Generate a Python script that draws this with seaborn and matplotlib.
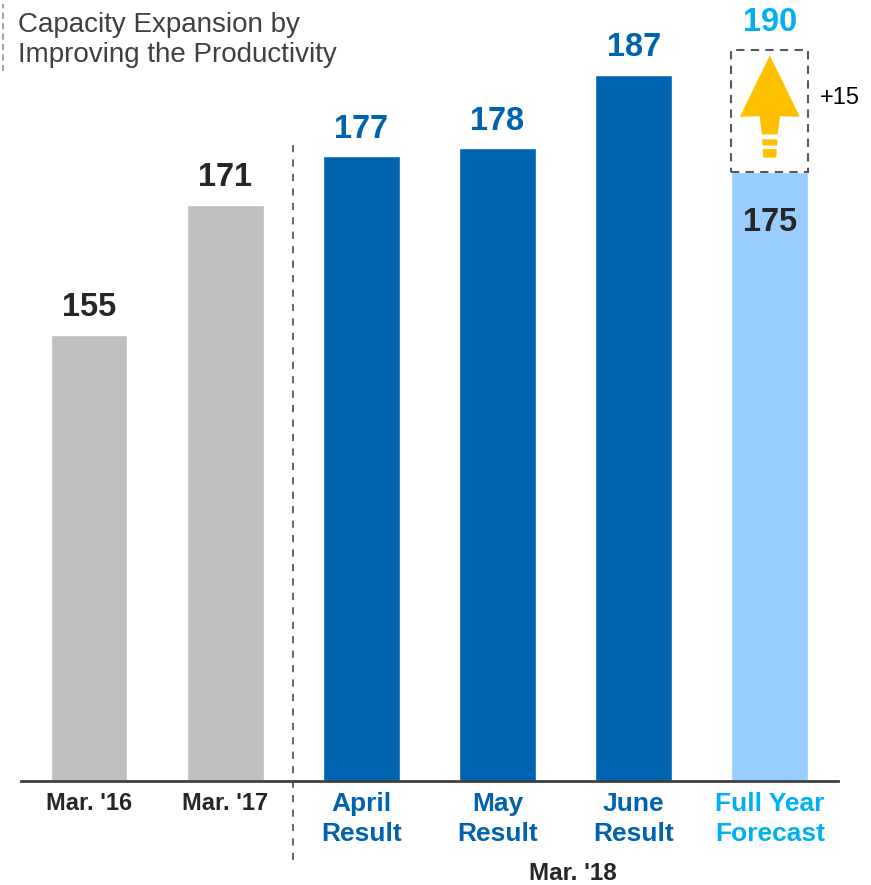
import numpy as np
import pandas as pd
import matplotlib
matplotlib.use('Agg')
import matplotlib.pyplot as plt
import seaborn as sns
from matplotlib.patches import Rectangle, Polygon

sns.set_style('white')
plt.rcParams['font.family'] = ['Liberation Sans', 'DejaVu Sans']

categories = ["Mar. '16", "Mar. '17", "April\nResult", "May\nResult", "June\nResult", "Full Year\nForecast"]
values = [155, 171, 177, 178, 187, 175]
forecast_target = 190
bar_colors = ['#BFBFBF', '#BFBFBF', '#0063AF', '#0063AF', '#0063AF', '#99CCFF']
label_colors = ['#262626', '#262626', '#0063AF', '#0063AF', '#0063AF', '#262626']
tick_colors = ['#262626', '#262626', '#0063AF', '#0063AF', '#0063AF', '#00B0F0']
tick_sizes = [17, 17, 19, 19, 19, 19]

df = pd.DataFrame({'cat': categories, 'val': values})

fig = plt.figure(figsize=(8.71, 8.85), dpi=100)
ax = fig.add_axes([0.024, 0.1175, 0.938, 0.875])

sns.barplot(data=df, x='cat', y='val', hue='cat', palette=bar_colors,
            width=0.565, legend=False, ax=ax, saturation=1)

ax.set_ylim(100, 195.4)
ax.set_xlim(-0.5, 5.5)
ax.set_xlabel('')
ax.set_ylabel('')
ax.set_yticks([])
for s in ['top', 'right', 'left']:
    ax.spines[s].set_visible(False)
ax.spines['bottom'].set_color('#404040')
ax.spines['bottom'].set_linewidth(2)
ax.tick_params(axis='x', length=0, pad=8)
ax.set_xticks(range(len(categories)))
ax.set_xticklabels(categories, fontweight='bold', linespacing=1.32)
for t, c, fs in zip(ax.get_xticklabels(), tick_colors, tick_sizes):
    t.set_color(c)
    t.set_fontsize(fs)

# value labels
for i, v in enumerate(values):
    if i == len(values) - 1:
        ax.text(i, v - 4.3, str(v), ha='center', va='top', fontsize=23.5,
                fontweight='bold', color=label_colors[i])
    else:
        ax.text(i, v + 1.4, str(v), ha='center', va='bottom', fontsize=23.5,
                fontweight='bold', color=label_colors[i])

# forecast box + arrow
xf = len(values) - 1
w = 0.565
base = values[-1]
ax.add_patch(Rectangle((xf - w / 2, base), w, forecast_target - base, fill=False,
                       ec='#595959', ls=(0, (4, 3)), lw=1.5, clip_on=False, zorder=3))
ax.text(xf, forecast_target + 1.5, str(forecast_target), ha='center', va='bottom',
        fontsize=23.5, fontweight='bold', color='#00B0F0')
ax.text(xf + 0.37, (base + forecast_target) / 2 + 1.6, '+' + str(forecast_target - base),
        ha='left', va='center', fontsize=17, color='black')

h = forecast_target - base
ay = lambda f: base + h * f
arrow = Polygon([(xf, ay(0.96)), (xf + 0.22, ay(0.455)), (xf + 0.075, ay(0.46)),
                 (xf + 0.058, ay(0.31)), (xf - 0.058, ay(0.31)), (xf - 0.075, ay(0.46)),
                 (xf - 0.22, ay(0.455))], closed=True, fc='#FFC000', ec='none', zorder=4)
ax.add_patch(arrow)
ax.add_patch(Polygon([(xf - 0.056, ay(0.27)), (xf + 0.056, ay(0.27)), (xf + 0.053, ay(0.22)),
                      (xf - 0.053, ay(0.22))], fc='#FFC000', ec='none', zorder=4))
ax.add_patch(Polygon([(xf - 0.052, ay(0.19)), (xf + 0.052, ay(0.19)), (xf + 0.048, ay(0.12)),
                      (xf - 0.048, ay(0.12))], fc='#FFC000', ec='none', zorder=4))

# separator between history and Mar. '18
ax.plot([1.5, 1.5], [178.3, 90.2], color='#595959', ls=(0, (4, 4)), lw=1.3, clip_on=False)
ax.text(3.55, 88.6, "Mar. '18", ha='center', va='center', fontsize=17.5,
        fontweight='bold', color='#262626', clip_on=False)

# header
fig.text(0.021, 0.955, 'Capacity Expansion by\nImproving the Productivity', ha='left',
         va='center', fontsize=20, color='#404040', linespacing=1.2)
fig.add_artist(plt.Line2D([0.003, 0.003], [0.92, 0.995], color='#A6A6A6',
                          ls=(0, (3, 2)), lw=1.5))

fig.savefig('out.png', dpi=100)
